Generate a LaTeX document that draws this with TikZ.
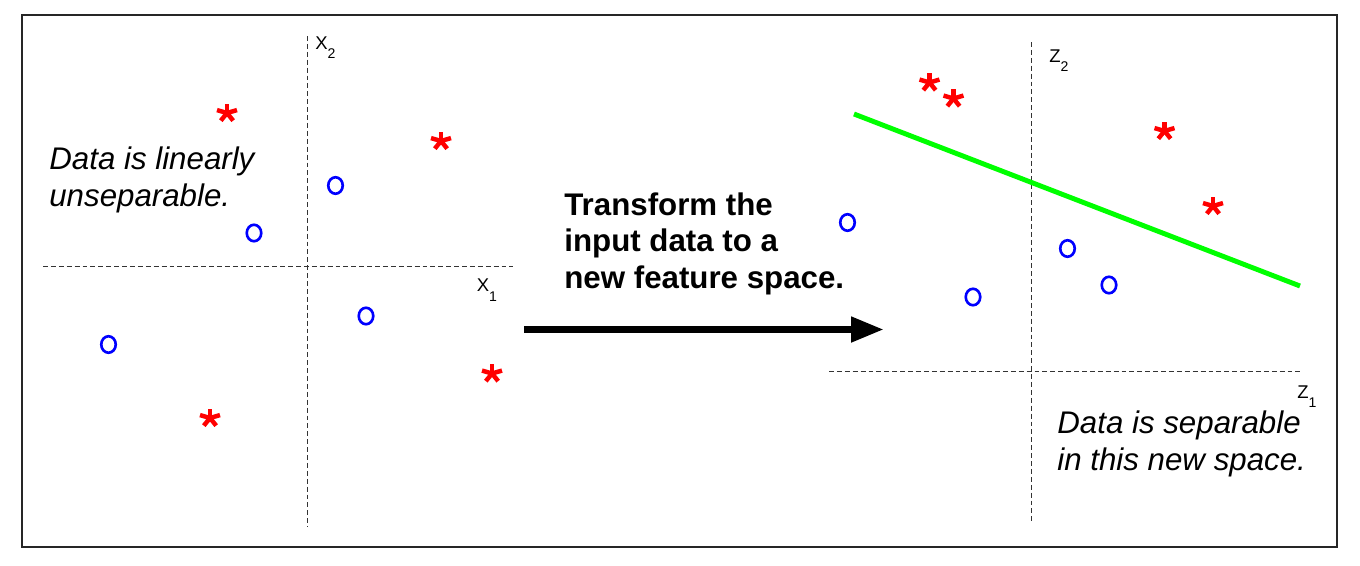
\documentclass[tikz,border=0pt]{standalone}
\usepackage{fontspec}
\setmainfont{Liberation Sans}
\usetikzlibrary{arrows.meta,shapes.geometric}
\newcommand\axlab[2]{#1\raisebox{-5.5pt}{\fontsize{8}{8}\selectfont #2}}
\tikzset{
  frame/.style={draw=black!85, line width=0.85pt},
  axisline/.style={draw=black!80, line width=0.55pt, dash pattern=on 2.8pt off 1.7pt},
  axlabel/.style={anchor=base west, inner sep=0pt, font=\fontsize{10.5}{10.5}\selectfont},
  note/.style={anchor=base west, inner sep=0pt, font=\itshape\fontsize{17.8}{21}\selectfont},
  bignote/.style={anchor=base west, inner sep=0pt, font=\bfseries\fontsize{17.8}{21}\selectfont},
  circpt/.style={ellipse, draw=blue, line width=1.5pt, minimum width=0.29cm, minimum height=0.33cm, inner sep=0pt},
  pics/redstar/.style={code={
    \begin{scope}[yscale=0.9]
    \foreach \a in {90,18,162,-54,234}
      \draw[red, line width=2.55pt, line cap=butt] (0,0) -- (\a:0.21cm);
    \end{scope}
  }},
}
\begin{document}
\begin{tikzpicture}[x=0.02cm, y=-0.02cm]
\useasboundingbox (0,0) rectangle (1360,565);
\fill[white] (0,0) rectangle (1360,565);
\draw[frame] (22,15) rectangle (1337,547);

% left axes
\coordinate (lx0) at (43,266);
\coordinate (lx1) at (513,266);
\coordinate (ly0) at (307,36);
\coordinate (ly1) at (307,527);
\draw[axisline] (lx0) -- (lx1);
\draw[axisline] (ly0) -- (ly1);
\node[axlabel] (lbx2) at (315,49.3) {\axlab{X}{2}};
\node[axlabel] (lbx1) at (476.5,291.7) {\axlab{X}{1}};

% right axes
\coordinate (rx0) at (829,371.5);
\coordinate (rx1) at (1302,371.5);
\coordinate (ry0) at (1031,42);
\coordinate (ry1) at (1031,523);
\draw[axisline] (rx0) -- (rx1);
\draw[axisline] (ry0) -- (ry1);
\node[axlabel] (lbz2) at (1049,62) {\axlab{Z}{2}};
\node[axlabel] (lbz1) at (1297,398) {\axlab{Z}{1}};

% separating line
\coordinate (g0) at (854,114);
\coordinate (g1) at (1300,286);
\draw[draw={rgb,1:red,0;green,1;blue,0}, line width=2.8pt] (g0) -- (g1);

% left points
\pic at (227,113) {redstar};
\pic at (441,141) {redstar};
\pic at (492,373.5) {redstar};
\pic at (210,418) {redstar};
\node[circpt] (a1) at (335.5,185.5) {};
\node[circpt] (a2) at (254,233) {};
\node[circpt] (a3) at (366,316) {};
\node[circpt] (a4) at (108.5,344.5) {};

% right points
\pic at (929.5,82.5) {redstar};
\pic at (953.5,98.5) {redstar};
\pic at (1164.5,131) {redstar};
\pic at (1213,206) {redstar};
\node[circpt] (b1) at (847.5,222.5) {};
\node[circpt] (b2) at (1067.5,248.5) {};
\node[circpt] (b3) at (1109,285) {};
\node[circpt] (b4) at (973,297) {};

% texts
\node[note] (t1) at (49,169.3) {Data is linearly};
\node[note] (t2) at (49,206) {unseparable.};
\node[note] (t3) at (1057,433.3) {Data is separable};
\node[note] (t4) at (1057,470) {in this new space.};
\node[bignote] (m1) at (564,215) {Transform the};
\node[bignote] (m2) at (564,251.7) {input data to a};
\node[bignote] (m3) at (564,288.3) {new feature space.};

% arrow
\coordinate (arS) at (524,329.5);
\coordinate (arE) at (884,329.5);
\draw[line width=4.3pt, -{Triangle[length=0.66cm, width=0.48cm]}] (arS) -- (arE);
\end{tikzpicture}
\end{document}
